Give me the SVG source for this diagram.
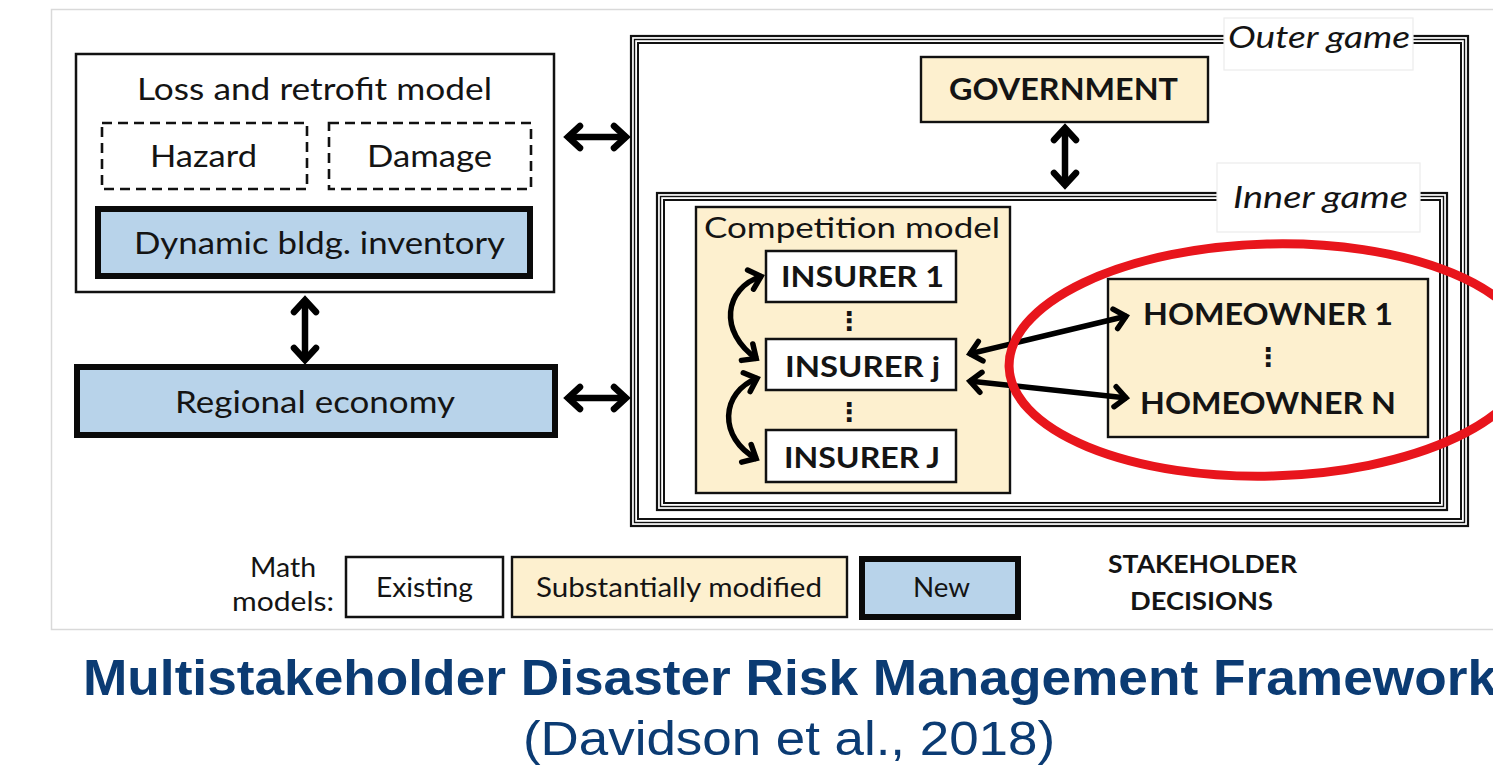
<svg xmlns="http://www.w3.org/2000/svg" width="1493" height="767" viewBox="0 0 1493 767">
  <style>
    .lbl { font-family: Lato, "Open Sans", "Liberation Sans", sans-serif; fill: #141414; }
    .bold { font-weight: 700; }
    .ital { font-style: italic; }
    .plain { fill: #ffffff; stroke: #111; stroke-width: 2.5; }
    .dash { fill: #ffffff; stroke: #111; stroke-width: 2.6; stroke-dasharray: 10 6; }
    .tan { fill: #fdf0cf; stroke: #111; stroke-width: 2.4; }
    .blue { fill: #b8d3ea; stroke: #0a0a0a; stroke-width: 6; }
    .frame { fill: none; stroke: #111; }
    .tag { fill: #ffffff; stroke: #ececec; stroke-width: 1.2; }
    .conn { fill: none; stroke: #000; stroke-width: 6.5; }
    .thin { fill: none; stroke: #000; stroke-width: 5.5; }
    .dots { font-family: "DejaVu Sans", sans-serif; font-weight: 700; fill: #141414; }
    .title { font-family: "Liberation Sans", Arial, sans-serif; fill: #0b3b73; }
  </style>
  <defs>
    <marker id="chev" markerUnits="userSpaceOnUse" viewBox="-20 -16 24 32" refX="0" refY="0" markerWidth="24" markerHeight="32" orient="auto-start-reverse">
      <path d="M-13,-11 L-1,0 L-13,11" fill="none" stroke="#000" stroke-width="6.5" stroke-linecap="round" stroke-linejoin="miter"/>
    </marker>
    <marker id="chevs" markerUnits="userSpaceOnUse" viewBox="-20 -16 24 32" refX="0" refY="0" markerWidth="24" markerHeight="32" orient="auto-start-reverse">
      <path d="M-12,-10 L-1,0 L-12,10" fill="none" stroke="#000" stroke-width="5.5" stroke-linecap="round" stroke-linejoin="miter"/>
    </marker>
  </defs>

  <!-- page background and figure border -->
  <rect x="0" y="0" width="1493" height="767" fill="#ffffff"/>
  <rect x="51.5" y="9.5" width="1460" height="620" fill="#ffffff" stroke="#d9d9d9" stroke-width="1.5"/>

  <!-- loss and retrofit model -->
  <g id="loss-model">
    <rect class="plain" x="76" y="54" width="478" height="238"/>
    <text class="lbl" x="314.5" y="100" font-size="30" text-anchor="middle" textLength="355" lengthAdjust="spacingAndGlyphs">Loss and retrofit model</text>
  </g>
  <g id="hazard">
    <rect class="dash" x="102" y="123" width="205" height="66"/>
    <text class="lbl" x="203.5" y="167" font-size="30" text-anchor="middle" textLength="107" lengthAdjust="spacingAndGlyphs">Hazard</text>
  </g>
  <g id="damage">
    <rect class="dash" x="329" y="123" width="202" height="66"/>
    <text class="lbl" x="429.5" y="167" font-size="30" text-anchor="middle" textLength="125" lengthAdjust="spacingAndGlyphs">Damage</text>
  </g>
  <g id="inventory">
    <rect class="blue" x="98" y="209" width="432" height="67"/>
    <text class="lbl" x="319.5" y="254" font-size="30" text-anchor="middle" textLength="371" lengthAdjust="spacingAndGlyphs">Dynamic bldg. inventory</text>
  </g>
  <g id="regional-economy">
    <rect class="blue" x="77" y="367" width="478" height="68"/>
    <text class="lbl" x="315" y="413" font-size="30" text-anchor="middle" textLength="280" lengthAdjust="spacingAndGlyphs">Regional economy</text>
  </g>

  <!-- outer game frame (triple line) -->
  <g id="outer-game">
    <rect class="frame" x="631" y="36" width="837" height="490" stroke-width="2.2"/>
    <rect class="frame" x="634.5" y="39.5" width="830" height="483" stroke-width="1.4"/>
    <rect class="frame" x="638" y="43" width="823" height="476" stroke-width="2"/>
    <rect class="tag" x="1224" y="18" width="189" height="52"/>
    <text class="lbl ital" x="1319" y="48" font-size="30" text-anchor="middle" textLength="182" lengthAdjust="spacingAndGlyphs">Outer game</text>
  </g>

  <!-- inner game frame (triple line) -->
  <g id="inner-game">
    <rect class="frame" x="657" y="193" width="790" height="317" stroke-width="2.2"/>
    <rect class="frame" x="660.5" y="196.5" width="783" height="310" stroke-width="1.4"/>
    <rect class="frame" x="664" y="200" width="776" height="303" stroke-width="2"/>
    <rect class="tag" x="1217" y="163" width="203" height="69"/>
    <text class="lbl ital" x="1320.5" y="208" font-size="30" text-anchor="middle" textLength="175" lengthAdjust="spacingAndGlyphs">Inner game</text>
  </g>

  <g id="government">
    <rect class="tan" x="921" y="57" width="287" height="65"/>
    <text class="lbl bold" x="1063.5" y="100" font-size="30" text-anchor="middle" textLength="229" lengthAdjust="spacingAndGlyphs">GOVERNMENT</text>
  </g>

  <g id="competition-model">
    <rect class="tan" x="696" y="207" width="314" height="286"/>
    <text class="lbl" x="852" y="238" font-size="29" text-anchor="middle" textLength="296" lengthAdjust="spacingAndGlyphs">Competition model</text>
    <text class="dots" x="849" y="330" font-size="26" text-anchor="middle">⋮</text>
    <text class="dots" x="849" y="421" font-size="26" text-anchor="middle">⋮</text>
  </g>
  <g id="insurer-1">
    <rect class="plain" x="766" y="251" width="190" height="51" stroke-width="2.4"/>
    <text class="lbl bold" x="862.5" y="287" font-size="29" text-anchor="middle" textLength="163" lengthAdjust="spacingAndGlyphs">INSURER 1</text>
  </g>
  <g id="insurer-j">
    <rect class="plain" x="766" y="339" width="190" height="51" stroke-width="2.4"/>
    <text class="lbl bold" x="862.5" y="377" font-size="29" text-anchor="middle" textLength="155" lengthAdjust="spacingAndGlyphs">INSURER j</text>
  </g>
  <g id="insurer-J">
    <rect class="plain" x="766" y="430" width="190" height="52" stroke-width="2.4"/>
    <text class="lbl bold" x="862" y="468" font-size="29" text-anchor="middle" textLength="156" lengthAdjust="spacingAndGlyphs">INSURER J</text>
  </g>

  <g id="homeowners">
    <rect class="tan" x="1108" y="279" width="320" height="158"/>
    <text class="lbl bold" x="1268" y="325" font-size="30" text-anchor="middle" textLength="250" lengthAdjust="spacingAndGlyphs">HOMEOWNER 1</text>
    <text class="dots" x="1268" y="366" font-size="26" text-anchor="middle">⋮</text>
    <text class="lbl bold" x="1268" y="414" font-size="30" text-anchor="middle" textLength="256" lengthAdjust="spacingAndGlyphs">HOMEOWNER N</text>
  </g>

  <!-- connectors -->
  <g id="connectors">
    <line class="conn" x1="567" y1="137" x2="627" y2="137" marker-start="url(#chev)" marker-end="url(#chev)"/>
    <line class="conn" x1="567" y1="398" x2="627" y2="398" marker-start="url(#chev)" marker-end="url(#chev)"/>
    <line class="conn" x1="305" y1="299" x2="305" y2="361" marker-start="url(#chev)" marker-end="url(#chev)"/>
    <line class="conn" x1="1065" y1="127" x2="1065" y2="186" marker-start="url(#chev)" marker-end="url(#chev)"/>
    <path class="thin" d="M762,276 C724,288 718,332 757,359" marker-start="url(#chevs)" marker-end="url(#chevs)"/>
    <path class="thin" d="M758,378 C720,392 718,438 757,459" marker-start="url(#chevs)" marker-end="url(#chevs)"/>
    <line class="thin" x1="969" y1="354" x2="1127" y2="316" marker-start="url(#chevs)" marker-end="url(#chevs)"/>
    <line class="thin" x1="969" y1="381" x2="1127" y2="398" marker-start="url(#chevs)" marker-end="url(#chevs)"/>
  </g>

  <!-- red highlight ring round the homeowners -->
  <g id="highlight">
    <ellipse cx="1270" cy="360" rx="261" ry="116" fill="none" stroke="#e8151c" stroke-width="9" transform="rotate(-1.5 1270 360)"/>
  </g>

  <!-- legend -->
  <g id="legend">
    <text class="lbl" x="283" y="577" font-size="27" text-anchor="middle" textLength="66" lengthAdjust="spacingAndGlyphs">Math</text>
    <text class="lbl" x="283" y="611" font-size="27" text-anchor="middle" textLength="102" lengthAdjust="spacingAndGlyphs">models:</text>
    <rect class="plain" x="346" y="557" width="157" height="60" stroke-width="2.4"/>
    <text class="lbl" x="424.5" y="597" font-size="27" text-anchor="middle" textLength="97" lengthAdjust="spacingAndGlyphs">Existing</text>
    <rect class="tan" x="512" y="557" width="335" height="60"/>
    <text class="lbl" x="679" y="597" font-size="27" text-anchor="middle" textLength="286" lengthAdjust="spacingAndGlyphs">Substantially modified</text>
    <rect class="blue" x="862" y="559" width="156" height="58"/>
    <text class="lbl" x="941.5" y="597" font-size="27" text-anchor="middle" textLength="57" lengthAdjust="spacingAndGlyphs">New</text>
    <text class="lbl bold" x="1202.5" y="573" font-size="24" text-anchor="middle" textLength="189" lengthAdjust="spacingAndGlyphs">STAKEHOLDER</text>
    <text class="lbl bold" x="1201.5" y="610" font-size="24" text-anchor="middle" textLength="143" lengthAdjust="spacingAndGlyphs">DECISIONS</text>
  </g>

  <!-- caption -->
  <text class="title" x="83" y="695" font-size="50" font-weight="700" textLength="1414" lengthAdjust="spacingAndGlyphs">Multistakeholder Disaster Risk Management Framework</text>
  <text class="title" x="789" y="755" font-size="48" text-anchor="middle" textLength="532" lengthAdjust="spacingAndGlyphs">(Davidson et al., 2018)</text>
</svg>
